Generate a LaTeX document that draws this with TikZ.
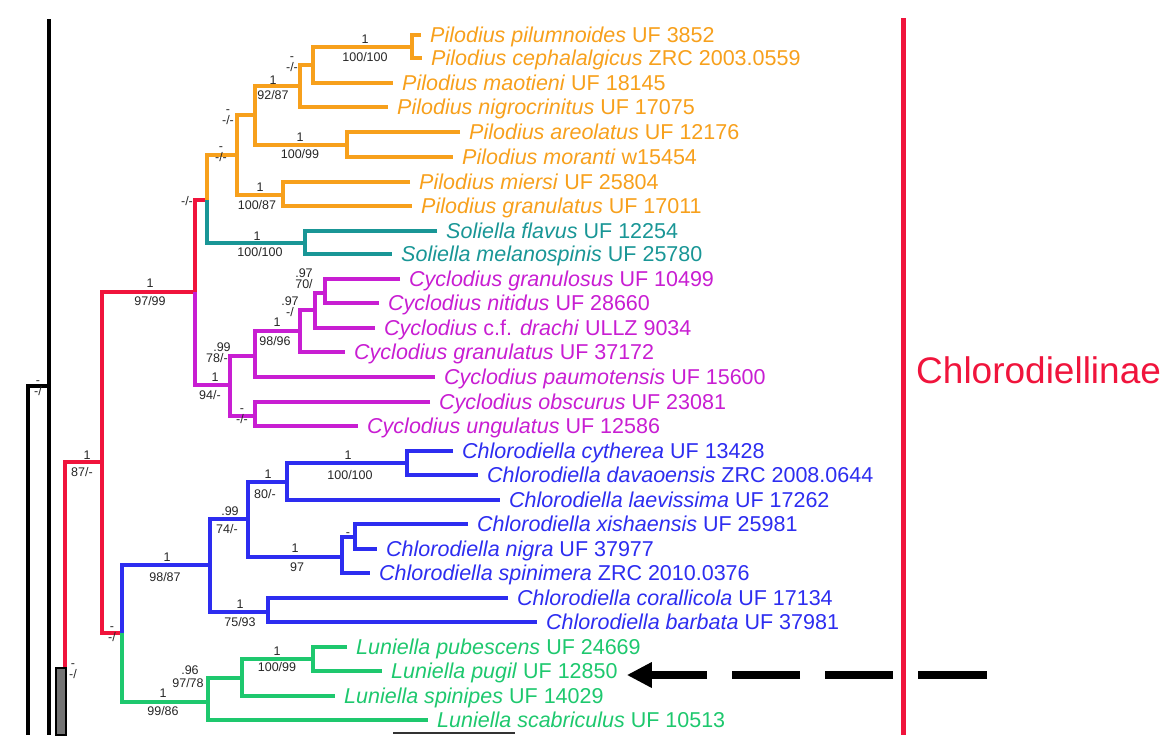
\documentclass[tikz,border=0pt]{standalone}
\usepackage{fontspec}
\setmainfont{Liberation Sans}
\usetikzlibrary{arrows.meta,positioning}
\usepackage{xcolor}
\definecolor{pilorange}{RGB}{247,160,28}
\definecolor{solteal}{RGB}{25,150,150}
\definecolor{cycpurple}{RGB}{200,30,210}
\definecolor{chlblue}{RGB}{45,45,240}
\definecolor{lungreen}{RGB}{30,200,110}
\definecolor{subred}{RGB}{240,20,60}
\tikzset{
    branch/.style={
        draw=#1,line width=4pt,line join=miter,line cap=butt
    },
    branch/.default=black,
    tip/.style={
        anchor=west,inner xsep=9pt,inner ysep=0pt,text=#1,
        font=\fontsize{21.5}{24}\selectfont,text height=15.4pt,text depth=0pt
    },
    tip/.default=black,
    supp/.style={
        inner sep=0pt,text=black!85,
        font=\fontsize{12.5}{14}\selectfont,text height=9pt,text depth=0pt
    },
    stack/.style={
        inner sep=0pt,text=black!85,align=center,
        font=\fontsize{12.5}{11}\selectfont
    },
    title/.style={
        inner sep=0pt,text=subred,
        font=\fontsize{37}{40}\selectfont,text height=26.5pt,text depth=0pt
    },
    pointer/.style={
        -{Triangle[length=25pt,width=24pt]},line width=8pt,draw=black,
        dash pattern=on 69pt off 25pt on 68pt off 25pt on 68pt off 25pt on 400pt
    }
}

\begin{document}
\begin{tikzpicture}[x=1pt,y=-1pt]
\useasboundingbox (0,0) rectangle (1174,750);

% tips
\node[tip=pilorange] (pil1) at (421,35) {\textit{Pilodius pilumnoides} UF 3852};
\node[tip=pilorange] (pil2) at (422,58) {\textit{Pilodius cephalalgicus} ZRC 2003.0559};
\node[tip=pilorange] (pil3) at (393,83) {\textit{Pilodius maotieni} UF 18145};
\node[tip=pilorange] (pil4) at (388,107) {\textit{Pilodius nigrocrinitus} UF 17075};
\node[tip=pilorange] (pil5) at (460,132) {\textit{Pilodius areolatus} UF 12176};
\node[tip=pilorange] (pil6) at (453,157) {\textit{Pilodius moranti} w15454};
\node[tip=pilorange] (pil7) at (410,182) {\textit{Pilodius miersi} UF 25804};
\node[tip=pilorange] (pil8) at (412,206) {\textit{Pilodius granulatus} UF 17011};
\node[tip=solteal] (sol1) at (437,231) {\textit{Soliella flavus} UF 12254};
\node[tip=solteal] (sol2) at (392,254) {\textit{Soliella melanospinis} UF 25780};
\node[tip=cycpurple] (cyc1) at (400,279) {\textit{Cyclodius granulosus} UF 10499};
\node[tip=cycpurple] (cyc2) at (379,303) {\textit{Cyclodius nitidus} UF 28660};
\node[tip=cycpurple] (cyc3) at (375,328) {\textit{Cyclodius} c.f. \textit{drachi} ULLZ 9034};
\node[tip=cycpurple] (cyc4) at (345,352) {\textit{Cyclodius granulatus} UF 37172};
\node[tip=cycpurple] (cyc5) at (435,377) {\textit{Cyclodius paumotensis} UF 15600};
\node[tip=cycpurple] (cyc6) at (430,402) {\textit{Cyclodius obscurus} UF 23081};
\node[tip=cycpurple] (cyc7) at (358,426) {\textit{Cyclodius ungulatus} UF 12586};
\node[tip=chlblue] (chl1) at (453,451) {\textit{Chlorodiella cytherea} UF 13428};
\node[tip=chlblue] (chl2) at (478,475) {\textit{Chlorodiella davaoensis} ZRC 2008.0644};
\node[tip=chlblue] (chl3) at (500,500) {\textit{Chlorodiella laevissima} UF 17262};
\node[tip=chlblue] (chl4) at (468,524) {\textit{Chlorodiella xishaensis} UF 25981};
\node[tip=chlblue] (chl5) at (377,549) {\textit{Chlorodiella nigra} UF 37977};
\node[tip=chlblue] (chl6) at (370,573) {\textit{Chlorodiella spinimera} ZRC 2010.0376};
\node[tip=chlblue] (chl7) at (508,598) {\textit{Chlorodiella corallicola} UF 17134};
\node[tip=chlblue] (chl8) at (537,622) {\textit{Chlorodiella barbata} UF 37981};
\node[tip=lungreen] (lun1) at (347,647) {\textit{Luniella pubescens} UF 24669};
\node[tip=lungreen] (lun2) at (382,671) {\textit{Luniella pugil} UF 12850};
\node[tip=lungreen] (lun3) at (335,696) {\textit{Luniella spinipes} UF 14029};
\node[tip=lungreen] (lun4) at (428,720) {\textit{Luniella scabriculus} UF 10513};

% internal nodes
\coordinate (nA1) at (412,47);
\coordinate (nA2) at (313,65);
\coordinate (nA3) at (300,86);
\coordinate (nA4) at (347,145);
\coordinate (nA5) at (255,115);
\coordinate (nA6) at (283,195);
\coordinate (nA7) at (237,155);
\coordinate (nB1) at (305,243);
\coordinate (nR1) at (207,200);
\coordinate (nC1) at (325,293);
\coordinate (nC2) at (315,310);
\coordinate (nC3) at (300,331);
\coordinate (nC4) at (255,356);
\coordinate (nC5) at (255,416);
\coordinate (nC6) at (230,385);
\coordinate (nR2) at (195,292);
\coordinate (nD1) at (407,463);
\coordinate (nD2) at (287,482);
\coordinate (nD3) at (355,537);
\coordinate (nD4) at (342,557);
\coordinate (nD5) at (248,519);
\coordinate (nD6) at (268,612);
\coordinate (nD7) at (210,565);
\coordinate (nE1) at (313,659);
\coordinate (nE2) at (242,678);
\coordinate (nE3) at (208,702);
\coordinate (nR3) at (122,633);
\coordinate (nR4) at (102,462);
\coordinate (r5end) at (65,668);

% red backbone
\draw[branch=subred] (nR1) -| (nR2);
\draw[branch=subred] (nR2) -| (nR4) |- (nR3);
\draw[branch=subred] (nR4) -| (r5end);

% Pilodius
\draw[branch=pilorange] (pil1.west) -| (nA1) |- (pil2.west);
\draw[branch=pilorange] (nA1) -| (nA2) |- (pil3.west);
\draw[branch=pilorange] (nA2) -| (nA3) |- (pil4.west);
\draw[branch=pilorange] (pil5.west) -| (nA4) |- (pil6.west);
\draw[branch=pilorange] (nA3) -| (nA5) |- (nA4);
\draw[branch=pilorange] (pil7.west) -| (nA6) |- (pil8.west);
\draw[branch=pilorange] (nA5) -| (nA7) |- (nA6);
\draw[branch=pilorange] (nA7) -| (nR1);

% Soliella
\draw[branch=solteal] (sol1.west) -| (nB1) |- (sol2.west);
\draw[branch=solteal] (nR1) |- (nB1);

% Cyclodius
\draw[branch=cycpurple] (cyc1.west) -| (nC1) |- (cyc2.west);
\draw[branch=cycpurple] (nC1) -| (nC2) |- (cyc3.west);
\draw[branch=cycpurple] (nC2) -| (nC3) |- (cyc4.west);
\draw[branch=cycpurple] (nC3) -| (nC4) |- (cyc5.west);
\draw[branch=cycpurple] (cyc6.west) -| (nC5) |- (cyc7.west);
\draw[branch=cycpurple] (nC4) -| (nC6) |- (nC5);
\draw[branch=cycpurple] (nR2) |- (nC6);

% Chlorodiella
\draw[branch=chlblue] (chl1.west) -| (nD1) |- (chl2.west);
\draw[branch=chlblue] (nD1) -| (nD2) |- (chl3.west);
\draw[branch=chlblue] (chl4.west) -| (nD3) |- (chl5.west);
\draw[branch=chlblue] (nD3) -| (nD4) |- (chl6.west);
\draw[branch=chlblue] (nD2) -| (nD5) |- (nD4);
\draw[branch=chlblue] (chl7.west) -| (nD6) |- (chl8.west);
\draw[branch=chlblue] (nD5) -| (nD7) |- (nD6);
\draw[branch=chlblue] (nD7) -| (nR3);

% Luniella
\draw[branch=lungreen] (lun1.west) -| (nE1) |- (lun2.west);
\draw[branch=lungreen] (nE1) -| (nE2) |- (lun3.west);
\draw[branch=lungreen] (nE2) -| (nE3) |- (lun4.west);
\draw[branch=lungreen] (nR3) |- (nE3);

% outer lineages
\coordinate (blkA) at (49,19);
\coordinate (blkB) at (49,735);
\coordinate (blkJ) at (49,386);
\coordinate (blkC) at (28,735);
\draw[branch] (blkA) -- (blkB);
\draw[branch] (blkJ) -| (blkC);
\draw[fill=black!55,line width=1.5pt] (56,668) rectangle (66,735);
\coordinate (sbarL) at (393,733);
\coordinate (sbarR) at (515,733);
\draw[black!80,line width=2pt] (sbarL) -- (sbarR);

% support values
\node[supp] (pA1) at (365,39) {1};
\node[supp] (bA1) at (365,57) {100/100};
\node[stack] (sA2) at (292,64) {-\\-/-};
\node[supp] (pA3) at (273,80) {1};
\node[supp] (bA3) at (273,95) {92/87};
\node[supp] (pA4) at (300,137) {1};
\node[supp] (bA4) at (300,154) {100/99};
\node[stack] (sA5) at (228,117) {-\\-/-};
\node[supp] (pA6) at (260,187) {1};
\node[supp] (bA6) at (257,205) {100/87};
\node[stack] (sA7) at (221,154) {-\\-/-};
\node[stack] (sR1) at (187,201) {-/-};
\node[supp] (pB1) at (257,236) {1};
\node[supp] (bB1) at (260,252) {100/100};
\node[supp] (pR2) at (150,283) {1};
\node[supp] (bR2) at (150,301) {97/99};
\node[supp] (pC6) at (215,377) {1};
\node[supp] (bC6) at (210,395) {94/-};
\node[supp] (pC4) at (222,347) {.99};
\node[supp] (bC4) at (217,358) {78/-};
\node[supp] (pC3) at (277,322) {1};
\node[supp] (bC3) at (275,341) {98/96};
\node[stack] (sC2) at (290,307) {.97\\-/};
\node[stack] (sC1) at (304,279) {.97\\70/};
\node[stack] (sC5) at (242,416) {-\\-/-};
\node[supp] (pD7) at (167,557) {1};
\node[supp] (bD7) at (165,577) {98/87};
\node[supp] (pD5) at (230,511) {.99};
\node[supp] (bD5) at (227,529) {74/-};
\node[supp] (pD2) at (268,474) {1};
\node[supp] (bD2) at (265,494) {80/-};
\node[supp] (pD1) at (348,455) {1};
\node[supp] (bD1) at (350,475) {100/100};
\node[supp] (pD4) at (295,548) {1};
\node[supp] (bD4) at (297,567) {97};
\node[supp] (pD3) at (348,532) {-};
\node[supp] (pD6) at (240,604) {1};
\node[supp] (bD6) at (240,622) {75/93};
\node[supp] (pE3) at (163,693) {1};
\node[supp] (bE3) at (163,711) {99/86};
\node[supp] (pE2) at (190,670) {.96};
\node[supp] (bE2) at (188,683) {97/78};
\node[supp] (pE1) at (277,651) {1};
\node[supp] (bE1) at (277,667) {100/99};
\node[supp] (pR4) at (87,455) {1};
\node[supp] (bR4) at (82,472) {87/-};
\node[stack] (sR3) at (112,634) {-\\-/};
\node[stack] (sR5) at (73,671) {-\\-/};
\node[stack] (sBlk) at (38,388) {-\\-/};

% subfamily bar and label
\coordinate (redtop) at (903,18);
\coordinate (redbot) at (903,735);
\coordinate (redmid) at (903,370);
\draw[subred,line width=5pt] (redtop) -- (redbot);
\node[title,right=13pt of redmid] (clade) {Chlorodiellinae};

% pointer to Luniella pugil
\coordinate (arrtail) at (987,675);
\draw[pointer] (arrtail) -- (arrtail -| lun2.east);

\end{tikzpicture}
\end{document}
